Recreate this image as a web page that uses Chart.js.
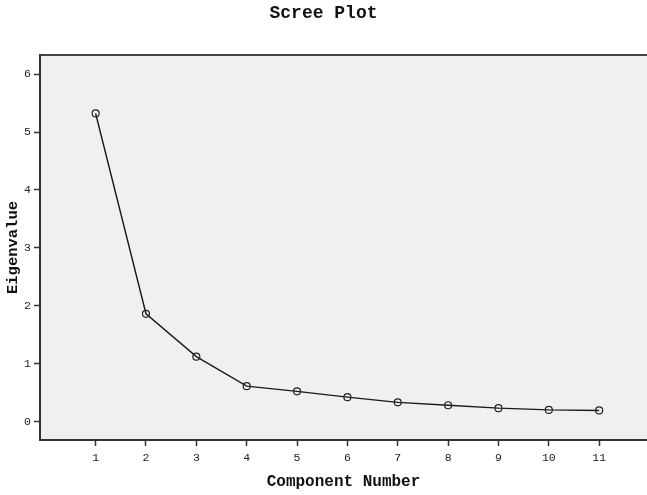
<!DOCTYPE html>
<html>
<head>
<meta charset="utf-8">
<script src="https://cdn.jsdelivr.net/npm/chart.js@4/dist/chart.umd.min.js"></script>
<style>
  html, body { margin: 0; padding: 0; background: #fff; }
  #wrap { width: 647px; height: 495px; }
</style>
</head>
<body>
<div id="wrap"><canvas id="screeChart" width="647" height="495"></canvas></div>
<script>
// data
const components = [1, 2, 3, 4, 5, 6, 7, 8, 9, 10, 11];
const eigenvalues = [5.32, 1.86, 1.12, 0.61, 0.52, 0.42, 0.33, 0.28, 0.23, 0.20, 0.19];
const yTicks = [0, 1, 2, 3, 4, 5, 6];

const monoBold = { family: "'Liberation Mono', 'Courier New', monospace", weight: 'bold' };

// grey plot background + top frame line
const frame = {
    id: 'frame',
    beforeDraw(chart) {
        const { ctx, chartArea: a } = chart;
        ctx.save();
        ctx.fillStyle = '#f0f0f0';
        ctx.fillRect(a.left, a.top, a.right - a.left, a.bottom - a.top);
        ctx.strokeStyle = '#444';
        ctx.lineWidth = 2;
        ctx.beginPath();
        ctx.moveTo(a.left, a.top);
        ctx.lineTo(a.right, a.top);
        ctx.stroke();
        ctx.restore();
    }
};

const points = components.map((c, i) => ({ x: c, y: eigenvalues[i] }));

new Chart(document.getElementById('screeChart').getContext('2d'), {
    type: 'line',
    data: {
        datasets: [{
            data: points,
            borderColor: '#1a1a1a',
            borderWidth: 1.4,
            pointRadius: 3.5,
            pointBorderWidth: 1.2,
            pointBorderColor: '#222',
            pointBackgroundColor: 'rgba(0,0,0,0)',
            tension: 0
        }]
    },
    plugins: [frame],
    options: {
        responsive: false,
        animation: false,
        layout: { padding: 0, autoPadding: false },
        plugins: {
            legend: { display: false },
            tooltip: { enabled: false },
            title: {
                display: true,
                text: 'Scree Plot',
                color: '#111',
                font: { ...monoBold, size: 18, lineHeight: 1 },
                padding: { top: 4, bottom: 33 }
            }
        },
        scales: {
            x: {
                type: 'linear',
                min: -0.105,
                max: 11.95,
                afterBuildTicks: (scale) => { scale.ticks = components.map(v => ({ value: v })); },
                afterFit: (scale) => {
                    scale.height = 55;
                    scale.paddingLeft = 0;
                    scale.paddingRight = 0;
                },
                grid: { drawOnChartArea: false, drawTicks: true, tickLength: 6, tickColor: '#333', tickWidth: 1.5 },
                border: { color: '#333', width: 2 },
                ticks: {
                    color: '#222',
                    padding: 5,
                    maxRotation: 0,
                    font: { family: "'Liberation Mono', monospace", size: 11.5 }
                },
                title: {
                    display: true,
                    text: 'Component Number',
                    color: '#111',
                    font: { ...monoBold, size: 16 },
                    padding: { top: 4, bottom: 3 }
                }
            },
            y: {
                type: 'linear',
                min: -0.32,
                max: 6.33,
                afterBuildTicks: (scale) => { scale.ticks = yTicks.map(v => ({ value: v })); },
                afterFit: (scale) => { scale.width = 40; },
                grid: { drawOnChartArea: false, drawTicks: true, tickLength: 6, tickColor: '#333', tickWidth: 1.5 },
                border: { color: '#333', width: 2 },
                ticks: {
                    color: '#222',
                    padding: 3,
                    font: { family: "'Liberation Mono', monospace", size: 11.5 }
                },
                title: {
                    display: true,
                    text: 'Eigenvalue',
                    color: '#111',
                    font: { ...monoBold, size: 15.5 },
                    padding: { top: 4, bottom: 4 }
                }
            }
        }
    }
});
</script>
</body>
</html>
